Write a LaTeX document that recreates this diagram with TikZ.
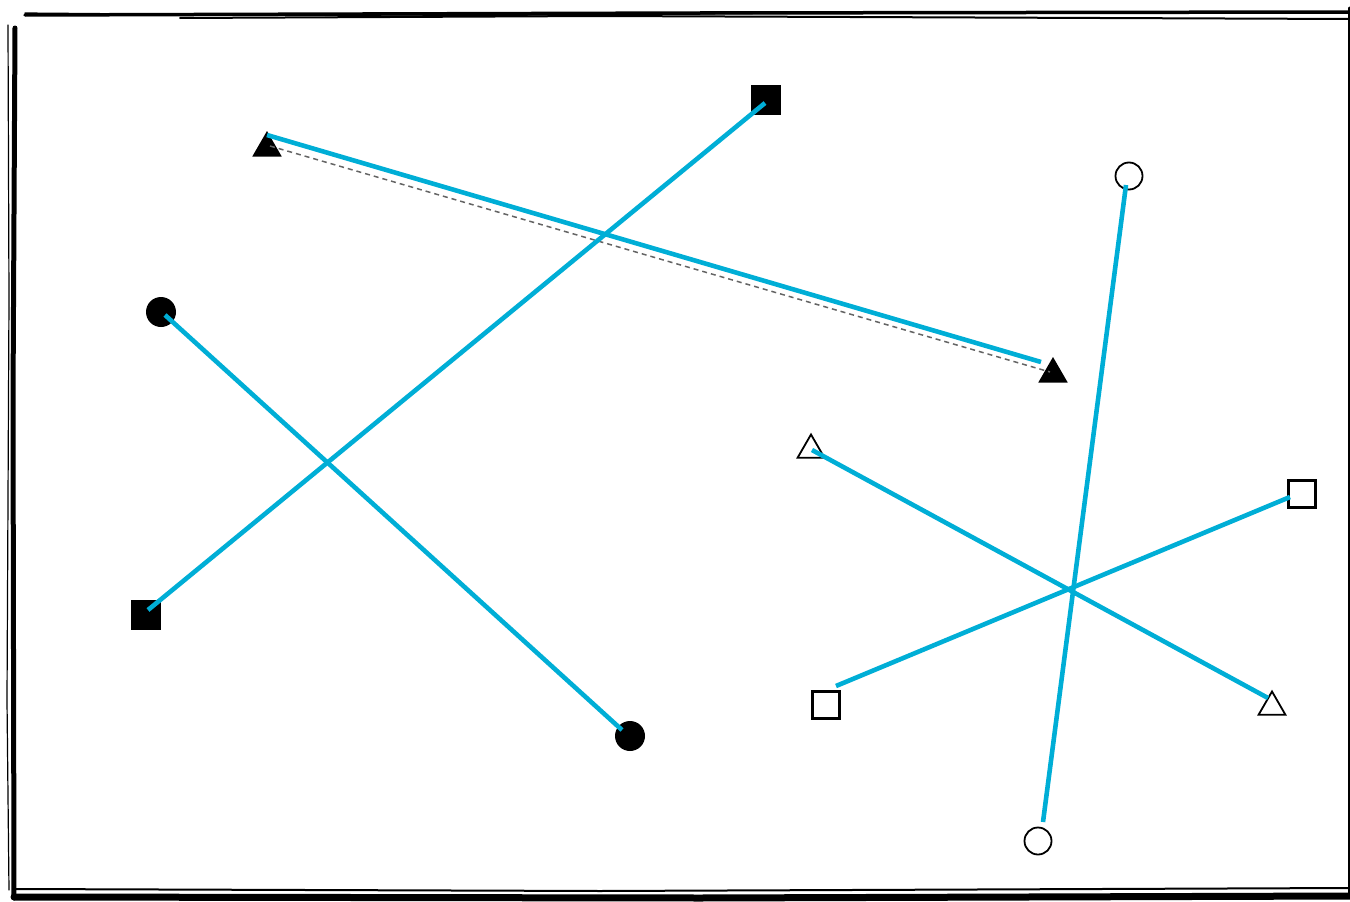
\documentclass[tikz,border=0pt]{standalone}
\usetikzlibrary{shapes.geometric}
\definecolor{linkblue}{RGB}{0,174,214}
\definecolor{dashgray}{RGB}{100,100,100}
\begin{document}
\begin{tikzpicture}[x=1pt,y=-1pt,
  link/.style={draw=linkblue,line width=4.6pt},
  guide/.style={draw=dashgray,line width=1.5pt,dash pattern=on 5pt off 4pt},
  ftri/.style={regular polygon,regular polygon sides=3,fill=black,minimum size=34pt,inner sep=0pt},
  otri/.style={regular polygon,regular polygon sides=3,draw=black,line width=1.8pt,minimum size=31pt,inner sep=0pt},
  fsq/.style={rectangle,fill=black,minimum size=30pt,inner sep=0pt},
  osq/.style={rectangle,draw=black,line width=2.4pt,minimum size=27pt,inner sep=0pt},
  fcirc/.style={circle,fill=black,minimum size=30pt,inner sep=0pt},
  ocirc/.style={circle,draw=black,line width=1.8pt,minimum size=27pt,inner sep=0pt},
  frame/.style={draw=black,line cap=round}]
\useasboundingbox (0,0) rectangle (1350,902);
% rough frame
\draw[frame,line width=3.5pt] (25,15) -- (700,13) -- (1352,12);
\draw[frame,line width=1.2pt] (25,13) -- (400,16) -- (1000,12);
\draw[frame,line width=2pt] (180,18) -- (600,16) -- (1350,19);
\draw[frame,line width=5pt] (15,28) -- (13,400) -- (14,898);
\draw[frame,line width=1.2pt] (8,25) -- (9,300) -- (7,700) -- (9,890);
\draw[frame,line width=7pt] (14,897) -- (700,898) -- (1352,896);
\draw[frame,line width=2pt] (15,889) -- (600,891) -- (1350,888);
\draw[frame,line width=3pt] (1349,8) -- (1349,450) -- (1349,895);
% shapes
\node[ftri] (t1) at (267,148) {};
\node[ftri] (t2) at (1053,374) {};
\node[fsq] (s1) at (766,100) {};
\node[fsq] (s2) at (146,615) {};
\node[fcirc] (c1) at (161,312) {};
\node[fcirc] (c2) at (630,736) {};
\node[otri] (ot1) at (811,450) {};
\node[otri] (ot2) at (1272,707) {};
\node[osq] (os1) at (1302,494) {};
\node[osq] (os2) at (826,705) {};
\node[ocirc] (oc1) at (1129,176) {};
\node[ocirc] (oc2) at (1038,841) {};
% connector end points
\coordinate (t1e) at (267,135);
\coordinate (t2e) at (1041,362);
\coordinate (t1d) at (270,146);
\coordinate (t2d) at (1050,372);
\coordinate (s1e) at (765,103);
\coordinate (s2e) at (148,610);
\coordinate (c1e) at (165,315);
\coordinate (c2e) at (622,730);
\coordinate (ot1e) at (812,450);
\coordinate (ot2e) at (1268,698);
\coordinate (os1e) at (1290,497);
\coordinate (os2e) at (836,686);
\coordinate (oc1e) at (1126,185);
\coordinate (oc2e) at (1043,822);
% dashed guide
\draw[guide] (t1d) -- (t2d);
% links
\draw[link] (t1e) -- (t2e);
\draw[link] (s1e) -- (s2e);
\draw[link] (c1e) -- (c2e);
\draw[link] (ot1e) -- (ot2e);
\draw[link] (os1e) -- (os2e);
\draw[link] (oc1e) -- (oc2e);
\end{tikzpicture}
\end{document}
